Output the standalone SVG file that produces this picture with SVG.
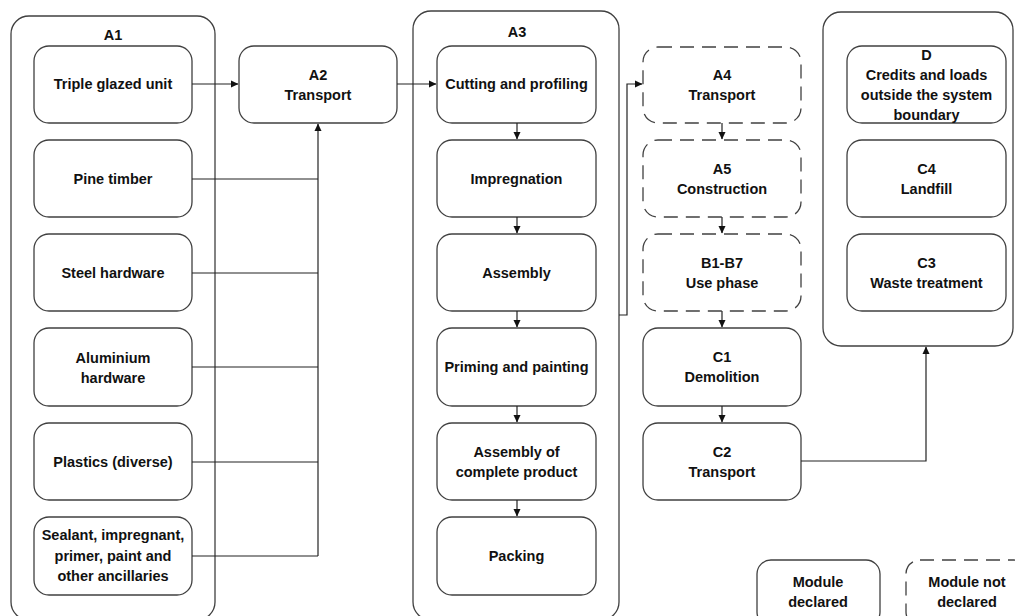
<svg xmlns="http://www.w3.org/2000/svg" width="1015" height="616" viewBox="0 0 1015 616">
<style>
.c{fill:#fff;stroke:#404040;stroke-width:1.3}
.b{fill:#fff;stroke:#404040;stroke-width:1.3}
.d{fill:#fff;stroke:#404040;stroke-width:1.3;stroke-dasharray:14 8}
.t{font-family:"Liberation Sans",Arial,sans-serif;font-weight:bold;font-size:14.5px;fill:#111;text-anchor:middle}
.l{fill:none;stroke:#222;stroke-width:1.2}
</style>
<defs>
<marker id="ah" markerWidth="8" markerHeight="8" refX="7" refY="4" orient="auto" markerUnits="userSpaceOnUse">
<path d="M0,0.5 L7.5,4 L0,7.5 Z" fill="#111"/>
</marker>
</defs>
<rect width="1015" height="616" fill="#fff"/>

<g id="A1">
<rect class="c" x="11" y="16" width="204" height="604" rx="18"/>
<text class="t" x="113" y="40">A1</text>
</g>
<g id="triple"><rect class="b" x="34" y="46" width="158" height="77" rx="15"/><text class="t" x="113" y="89">Triple glazed unit</text></g>
<g id="pine"><rect class="b" x="34" y="140" width="158" height="77" rx="15"/><text class="t" x="113" y="184">Pine timber</text></g>
<g id="steel"><rect class="b" x="34" y="234" width="158" height="77" rx="15"/><text class="t" x="113" y="278">Steel hardware</text></g>
<g id="alu"><rect class="b" x="34" y="328" width="158" height="78" rx="15"/><text class="t" x="113" y="363">Aluminium</text><text class="t" x="113" y="383">hardware</text></g>
<g id="plastics"><rect class="b" x="34" y="423" width="158" height="77" rx="15"/><text class="t" x="113" y="467">Plastics (diverse)</text></g>
<g id="sealant"><rect class="b" x="34" y="517" width="158" height="78" rx="15"/><text class="t" x="113" y="540">Sealant, impregnant,</text><text class="t" x="113" y="561">primer, paint and</text><text class="t" x="113" y="581">other ancillaries</text></g>

<g id="A2"><rect class="b" x="239" y="46" width="158" height="77" rx="15"/><text class="t" x="318" y="80">A2</text><text class="t" x="318" y="100">Transport</text></g>

<g id="A3">
<rect class="c" x="413" y="11" width="206" height="609" rx="18"/>
<text class="t" x="517" y="37">A3</text>
</g>
<g id="cutting"><rect class="b" x="437" y="46" width="159" height="77" rx="15"/><text class="t" x="516.5" y="89">Cutting and profiling</text></g>
<g id="impregnation"><rect class="b" x="437" y="140" width="159" height="77" rx="15"/><text class="t" x="516.5" y="184">Impregnation</text></g>
<g id="assembly"><rect class="b" x="437" y="234" width="159" height="77" rx="15"/><text class="t" x="516.5" y="278">Assembly</text></g>
<g id="priming"><rect class="b" x="437" y="328" width="159" height="78" rx="15"/><text class="t" x="516.5" y="372">Priming and painting</text></g>
<g id="assemblyComplete"><rect class="b" x="437" y="423" width="159" height="77" rx="15"/><text class="t" x="516.5" y="457">Assembly of</text><text class="t" x="516.5" y="477">complete product</text></g>
<g id="packing"><rect class="b" x="437" y="517" width="159" height="78" rx="15"/><text class="t" x="516.5" y="561">Packing</text></g>

<g id="A4"><rect class="d" x="643" y="47" width="158" height="76" rx="15"/><text class="t" x="722" y="80">A4</text><text class="t" x="722" y="100">Transport</text></g>
<g id="A5"><rect class="d" x="643" y="140" width="158" height="77" rx="15"/><text class="t" x="722" y="174">A5</text><text class="t" x="722" y="194">Construction</text></g>
<g id="B1B7"><rect class="d" x="643" y="234" width="158" height="77" rx="15"/><text class="t" x="722" y="268">B1-B7</text><text class="t" x="722" y="288">Use phase</text></g>
<g id="C1"><rect class="b" x="643" y="328" width="158" height="78" rx="15"/><text class="t" x="722" y="362">C1</text><text class="t" x="722" y="382">Demolition</text></g>
<g id="C2"><rect class="b" x="643" y="423" width="158" height="77" rx="15"/><text class="t" x="722" y="457">C2</text><text class="t" x="722" y="477">Transport</text></g>

<g id="EoL"><rect class="c" x="823" y="12" width="190" height="334" rx="18"/></g>
<g id="D"><rect class="b" x="847" y="46" width="159" height="77" rx="15"/><text class="t" x="926.5" y="60">D</text><text class="t" x="926.5" y="80">Credits and loads</text><text class="t" x="926.5" y="100">outside the system</text><text class="t" x="926.5" y="120">boundary</text></g>
<g id="C4"><rect class="b" x="847" y="140" width="159" height="77" rx="15"/><text class="t" x="926.5" y="174">C4</text><text class="t" x="926.5" y="194">Landfill</text></g>
<g id="C3"><rect class="b" x="847" y="234" width="159" height="77" rx="15"/><text class="t" x="926.5" y="268">C3</text><text class="t" x="926.5" y="288">Waste treatment</text></g>

<g id="legendDeclared"><rect class="b" x="757" y="560" width="123" height="66" rx="14"/><text class="t" x="818" y="587">Module</text><text class="t" x="818" y="607">declared</text></g>
<g id="legendNotDeclared"><rect class="d" x="906" y="560" width="122" height="66" rx="14"/><text class="t" x="967" y="587">Module not</text><text class="t" x="967" y="607">declared</text></g>

<g id="connectors">
<line class="l" x1="192" y1="84" x2="238" y2="84" marker-end="url(#ah)"/>
<line class="l" x1="318" y1="556" x2="318" y2="124" marker-end="url(#ah)"/>
<line class="l" x1="192" y1="179" x2="318" y2="179"/>
<line class="l" x1="192" y1="273" x2="318" y2="273"/>
<line class="l" x1="192" y1="367" x2="318" y2="367"/>
<line class="l" x1="192" y1="462" x2="318" y2="462"/>
<line class="l" x1="192" y1="556" x2="318" y2="556"/>
<line class="l" x1="397" y1="84" x2="436" y2="84" marker-end="url(#ah)"/>
<line class="l" x1="517" y1="123" x2="517" y2="139" marker-end="url(#ah)"/>
<line class="l" x1="517" y1="217" x2="517" y2="233" marker-end="url(#ah)"/>
<line class="l" x1="517" y1="311" x2="517" y2="327" marker-end="url(#ah)"/>
<line class="l" x1="517" y1="406" x2="517" y2="422" marker-end="url(#ah)"/>
<line class="l" x1="517" y1="500" x2="517" y2="516" marker-end="url(#ah)"/>
<polyline class="l" points="619,315 627,315 627,84 642,84" marker-end="url(#ah)"/>
<line class="l" x1="722" y1="123" x2="722" y2="139" marker-end="url(#ah)"/>
<line class="l" x1="722" y1="217" x2="722" y2="233" marker-end="url(#ah)"/>
<line class="l" x1="722" y1="311" x2="722" y2="327" marker-end="url(#ah)"/>
<line class="l" x1="722" y1="406" x2="722" y2="422" marker-end="url(#ah)"/>
<polyline class="l" points="801,461 926,461 926,347" marker-end="url(#ah)"/>
</g>
</svg>
